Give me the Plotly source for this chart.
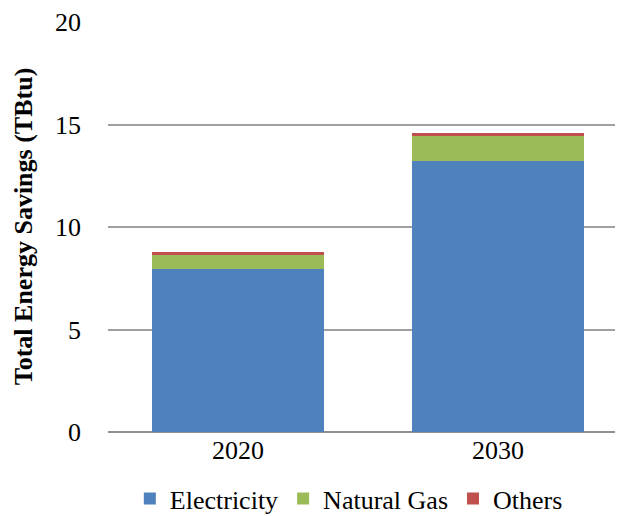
import plotly.graph_objects as go

years = ["2020", "2030"]
electricity = [7.95, 13.23]
natural_gas = [0.68, 1.19]
others = [0.15, 0.15]

series = [
    ("Electricity", electricity, "#4f81bd"),
    ("Natural Gas", natural_gas, "#9bbb59"),
    ("Others", others, "#c0504d"),
]

SERIF = "Liberation Serif"

fig = go.Figure()
for name, vals, color in series:
    fig.add_trace(go.Bar(
        x=years, y=vals, name=name,
        marker=dict(color=color, line=dict(width=0)),
        width=0.665,
    ))

fig.update_layout(
    barmode="stack",
    width=618, height=516,
    margin=dict(l=108, r=3, t=21, b=84, autoexpand=False),
    paper_bgcolor="white", plot_bgcolor="white",
    font=dict(family=SERIF, size=26, color="black"),
    showlegend=True,
    legend=dict(
        orientation="h", x=0.475, xanchor="center",
        y=-0.162, yanchor="middle",
        font=dict(family=SERIF, size=26, color="black"),
        traceorder="normal", itemwidth=30,
        bgcolor="rgba(0,0,0,0)",
    ),
    xaxis=dict(
        type="category",
        range=[-0.5, 1.45],
        showgrid=False, showline=False, ticks="",
        tickfont=dict(family=SERIF, size=26),
    ),
    yaxis=dict(
        range=[0, 20.049], dtick=5, tick0=0,
        showgrid=True, gridcolor="#a0a0a0", gridwidth=1.5,
        zeroline=True, zerolinecolor="#909090", zerolinewidth=2,
        showline=False, ticks="",
        ticklabelstandoff=26,
        tickfont=dict(family=SERIF, size=26),
        title=dict(text="<b>Total Energy Savings (TBtu)</b>",
                   font=dict(family=SERIF, size=26), standoff=14),
    ),
)

fig.write_html("out.html")
